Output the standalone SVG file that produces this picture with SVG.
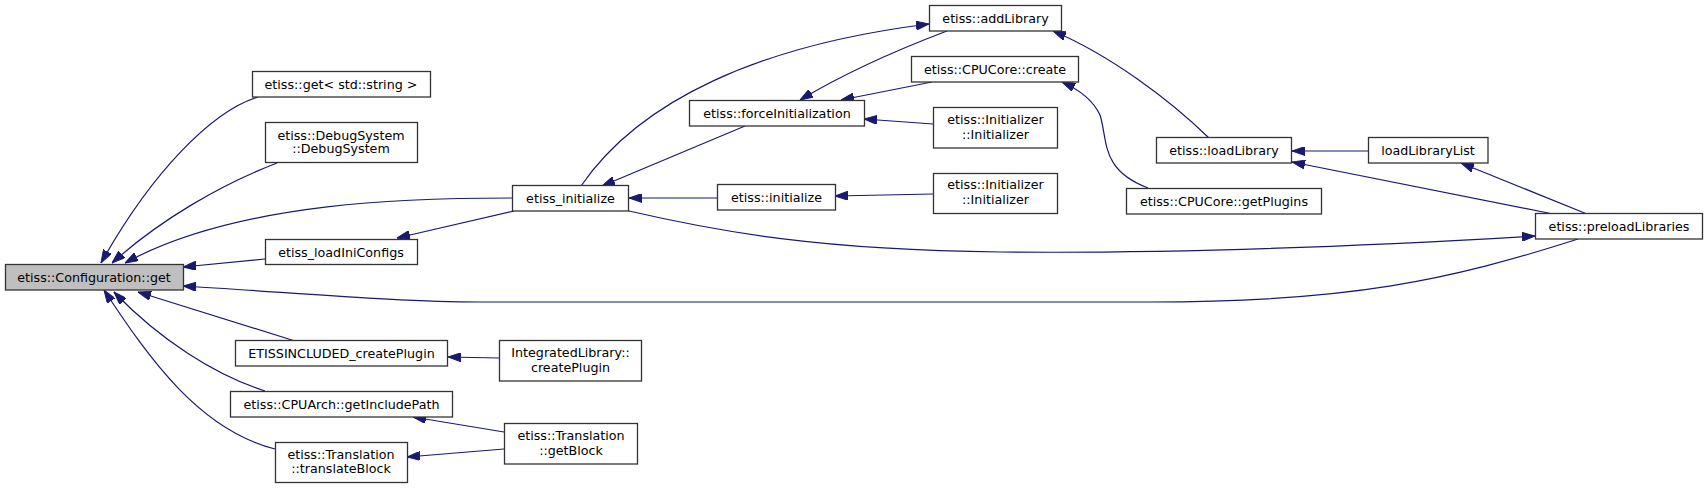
<svg xmlns="http://www.w3.org/2000/svg" width="1708" height="489" viewBox="0 0 1708 489">
<style>
.n rect{fill:#ffffff;stroke:#333333;stroke-width:1.3}
.n text{font-family:"DejaVu Sans",sans-serif;font-size:12.7px;fill:#000000;text-anchor:middle}
.root rect{fill:#bfbfbf}
#edges path{fill:none;stroke:#191970;stroke-width:1.2;marker-end:url(#ah)}
</style>
<defs>
<marker id="ah" viewBox="0 0 13 9" refX="13" refY="4.5" markerUnits="userSpaceOnUse" markerWidth="13" markerHeight="9" orient="auto">
<path d="M0,0 L13,4.5 L0,9 z" fill="#191970" stroke="#191970" stroke-width="1"/>
</marker>
</defs>
<rect width="1708" height="489" fill="#ffffff"/>
<g id="edges">
<path d="M258,97 C212,111 152,172 101,263"/>
<path d="M277,163 C220,185 160,220 112,263"/>
<path d="M512,198 C420,198 240,200 125,263"/>
<path d="M265,259 L183,267"/>
<path d="M1578,239 C1450,280 1350,302 1150,302 L480,302 C400,302 300,293 183,286"/>
<path d="M295,341 L138,292"/>
<path d="M265,391 C215,375 160,340 114,292"/>
<path d="M275,449 C200,430 150,360 104,290"/>
<path d="M514,211 L397,238"/>
<path d="M499,358 L448,357"/>
<path d="M504,432 L413,417"/>
<path d="M504,449 L407,457"/>
<path d="M745,126 L602,186"/>
<path d="M581,186 C640,100 760,45 929,24"/>
<path d="M947,31 C910,45 850,70 800,100"/>
<path d="M932,82 L841,100"/>
<path d="M933,124 L864,119"/>
<path d="M933,194 L835,196"/>
<path d="M717,198 L629,198"/>
<path d="M629,211 C720,232 820,250 1000,252 C1200,254 1400,244 1535,236"/>
<path d="M1209,138 C1170,100 1110,55 1053,31"/>
<path d="M1148,188 C1100,170 1108,140 1100,115 C1093,100 1080,90 1062,82"/>
<path d="M1369,151 L1292,151"/>
<path d="M1553,214 L1292,162"/>
<path d="M1587,214 L1461,163"/>
</g>
<g id="node_config_get" class="n root"><rect x="5.5" y="264.5" width="178" height="25.5"/><text x="94" y="281.5">etiss::Configuration::get</text></g>
<g id="node_get_string" class="n"><rect x="252.5" y="71.5" width="178" height="25.5"/><text x="341" y="88.5">etiss::get&lt; std::string &gt;</text></g>
<g id="node_debugsystem" class="n"><rect x="265.5" y="122.5" width="152" height="40"/><text x="341" y="139.5">etiss::DebugSystem</text><text x="341" y="153">::DebugSystem</text></g>
<g id="node_loadiniconfigs" class="n"><rect x="265.5" y="239.5" width="152" height="25"/><text x="341" y="256.5">etiss_loadIniConfigs</text></g>
<g id="node_etissincluded" class="n"><rect x="235.5" y="340.5" width="212" height="25.5"/><text x="341.5" y="357.5">ETISSINCLUDED_createPlugin</text></g>
<g id="node_getincludepath" class="n"><rect x="230.5" y="391.5" width="222" height="25.5"/><text x="341.5" y="408.5">etiss::CPUArch::getIncludePath</text></g>
<g id="node_translateblock" class="n"><rect x="275.5" y="442.5" width="132" height="40"/><text x="341" y="459">etiss::Translation</text><text x="341" y="473">::translateBlock</text></g>
<g id="node_etiss_initialize" class="n"><rect x="512.5" y="185.5" width="116" height="25.5"/><text x="570.5" y="202.5">etiss_initialize</text></g>
<g id="node_integratedlibrary" class="n"><rect x="499.5" y="340.5" width="142" height="40.5"/><text x="570.5" y="357">IntegratedLibrary::</text><text x="570.5" y="371.5">createPlugin</text></g>
<g id="node_getblock" class="n"><rect x="504.5" y="423.5" width="133" height="40.5"/><text x="571" y="440">etiss::Translation</text><text x="571" y="454.5">::getBlock</text></g>
<g id="node_forceinit" class="n"><rect x="689.5" y="100.5" width="175" height="25.5"/><text x="777" y="117.5">etiss::forceInitialization</text></g>
<g id="node_initialize" class="n"><rect x="717.5" y="184.5" width="118" height="25.5"/><text x="776.5" y="201.5">etiss::initialize</text></g>
<g id="node_addlibrary" class="n"><rect x="929.5" y="5.5" width="132" height="25.5"/><text x="995.5" y="22.5">etiss::addLibrary</text></g>
<g id="node_cpucore_create" class="n"><rect x="911.5" y="56.5" width="167" height="25.5"/><text x="995" y="73.5">etiss::CPUCore::create</text></g>
<g id="node_initializer1" class="n"><rect x="933.5" y="107.5" width="124" height="40.5"/><text x="995.5" y="123.5">etiss::Initializer</text><text x="995.5" y="139">::Initializer</text></g>
<g id="node_initializer2" class="n"><rect x="933.5" y="173.5" width="124" height="40"/><text x="995.5" y="189">etiss::Initializer</text><text x="995.5" y="204">::Initializer</text></g>
<g id="node_loadlibrary" class="n"><rect x="1156.5" y="137.5" width="135" height="25.5"/><text x="1224" y="154.5">etiss::loadLibrary</text></g>
<g id="node_getplugins" class="n"><rect x="1126.5" y="188.5" width="195" height="25.5"/><text x="1224" y="205.5">etiss::CPUCore::getPlugins</text></g>
<g id="node_loadlibrarylist" class="n"><rect x="1368.5" y="137.5" width="119.5" height="25.5"/><text x="1428" y="154.5">loadLibraryList</text></g>
<g id="node_preloadlibraries" class="n"><rect x="1535.5" y="213.5" width="167" height="25.5"/><text x="1619" y="230.5">etiss::preloadLibraries</text></g>
</svg>
